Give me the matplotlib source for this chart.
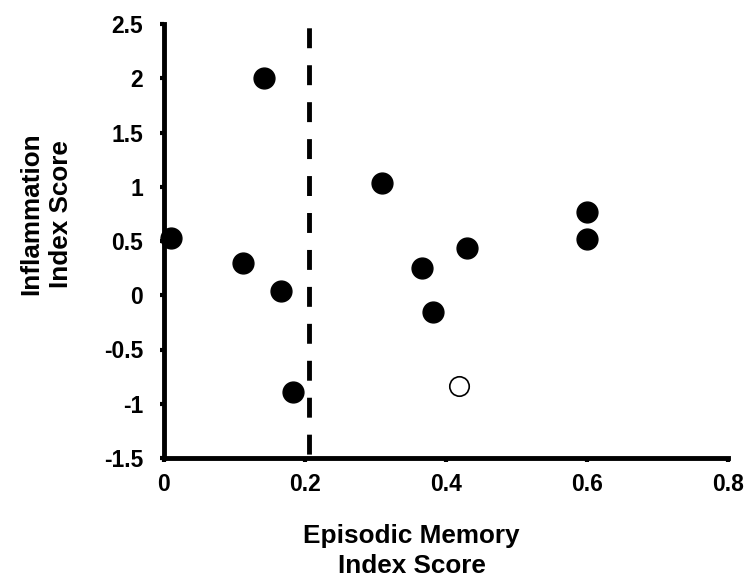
import matplotlib
matplotlib.use("Agg")
import matplotlib.pyplot as plt

plt.rcParams['font.family'] = ['Liberation Sans', 'DejaVu Sans']

# Data
filled_x = [0.01, 0.142, 0.112, 0.166, 0.183, 0.309, 0.366, 0.381, 0.430, 0.600, 0.600]
filled_y = [0.53, 2.00, 0.30, 0.04, -0.89, 1.03, 0.25, -0.15, 0.44, 0.77, 0.52]
open_x = [0.418]
open_y = [-0.84]
cutoff_x = 0.206
x_ticks = [0, 0.2, 0.4, 0.6, 0.8]
x_ticklabels = ['0', '0.2', '0.4', '0.6', '0.8']
y_ticks = [-1.5, -1, -0.5, 0, 0.5, 1, 1.5, 2, 2.5]
y_ticklabels = ['-1.5', '-1', '-0.5', '0', '0.5', '1', '1.5', '2', '2.5']

fig = plt.figure(figsize=(7.46, 5.87), dpi=100)
ax = fig.add_axes([164/746, 1-458/587, (728-164)/746, (458-24)/587])

ax.axvline(cutoff_x, color='black', linestyle=(6.8, (4.1, 3.5)), linewidth=3.5, zorder=1)
ax.plot(filled_x, filled_y, 'o', color='black', markersize=15, zorder=3, clip_on=False)
ax.plot(open_x, open_y, 'o', markerfacecolor='white', markeredgecolor='black',
        markeredgewidth=1.2, markersize=14, zorder=3)

ax.set_xlim(0, 0.8)
ax.set_ylim(-1.5, 2.5)
ax.set_xticks(x_ticks)
ax.set_xticklabels(x_ticklabels)
ax.set_yticks(y_ticks)
ax.set_yticklabels(y_ticklabels)

for s in ['top', 'right']:
    ax.spines[s].set_visible(False)
for s in ['left', 'bottom']:
    ax.spines[s].set_linewidth(3.5)
    ax.spines[s].set_color('black')

ax.tick_params(axis='both', direction='out', length=3, width=3, colors='black',
               labelsize=16.5)
ax.tick_params(axis='x', pad=8)
ax.tick_params(axis='y', pad=12)
for lab in ax.get_xticklabels() + ax.get_yticklabels():
    lab.set_fontweight('bold')

ax.set_xlabel('Episodic Memory\nIndex Score', fontsize=18.8, fontweight='bold', linespacing=1.3)
ax.xaxis.set_label_coords(0.439, -0.152)
ax.set_ylabel('Inflammation\nIndex Score', fontsize=18.8, fontweight='bold', linespacing=1.3)
ax.yaxis.set_label_coords(-0.161, 0.562)

fig.savefig('out.png', dpi=100)
